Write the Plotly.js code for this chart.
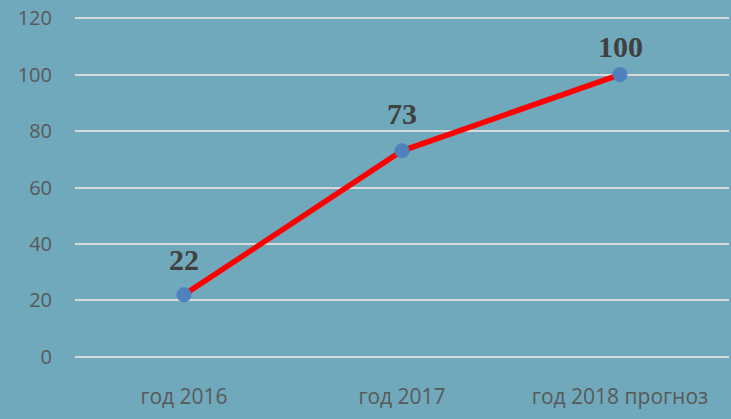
<!DOCTYPE html>
<html><head><meta charset="utf-8">
<script src="https://cdn.plot.ly/plotly-3.0.1.min.js"></script>
<style>html,body{margin:0;padding:0;background:#6fa9bb;}#c{width:731px;height:419px;}</style>
</head><body><div id="c"></div>
<script>
const categories = ["год 2016", "год 2017", "год 2018 прогноз"];
const values = [22, 73, 100];
const labels = ["22", "73", "100"];

const shifts = [35, 37, 28];
const trace = {
  x: categories, y: values, type: "scatter", mode: "lines+markers",
  line: {color: "#ff0000", width: 5.5},
  marker: {color: "#4f81bd", size: 15},
  hoverinfo: "none"
};
const annotations = categories.map((c, i) => ({
  x: c, y: values[i], text: labels[i], showarrow: false, yshift: shifts[i],
  font: {family: "Liberation Serif, Times New Roman, serif", size: 30, color: "#404040", weight: "bold"},
  xanchor: "center", yanchor: "middle"
}));
Plotly.newPlot("c", [trace], {
  width: 731, height: 419,
  paper_bgcolor: "#6fa9bb", plot_bgcolor: "#6fa9bb",
  margin: {l: 75, r: 2, t: 17, b: 61},
  showlegend: false,
  xaxis: {type: "category", range: [-0.5, 2.5], showgrid: false, zeroline: false, showline: false,
    ticks: "", ticklabelstandoff: 24,
    tickfont: {family: "Open Sans, sans-serif", size: 21, color: "#595959"}},
  yaxis: {range: [-0.4, 120.4], dtick: 20, showgrid: true, gridcolor: "#d9d9d9", gridwidth: 2,
    zeroline: false, showline: false, ticks: "", ticklabelstandoff: 22,
    tickfont: {family: "Open Sans, sans-serif", size: 20, color: "#595959"}},
  annotations: annotations
}, {displayModeBar: false, staticPlot: true});
</script></body></html>
